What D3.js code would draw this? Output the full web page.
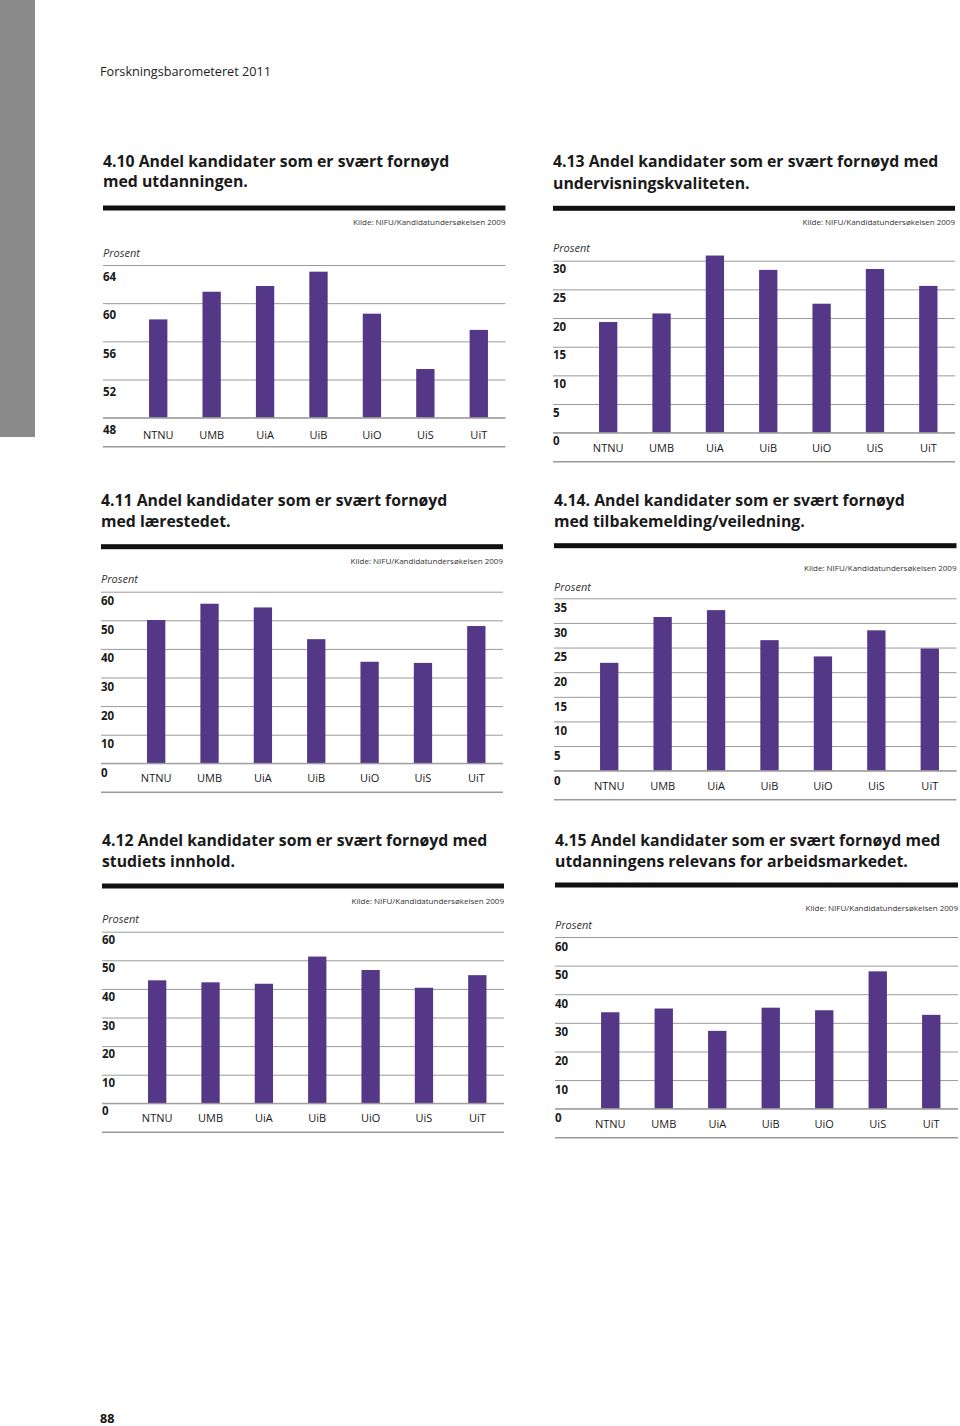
<!DOCTYPE html>
<html>
<head>
<meta charset="utf-8">
<script src="https://cdn.jsdelivr.net/npm/d3@7"></script>
<style>
  body { margin: 0; background: #fff; }
  svg { display: block; font-family: "Open Sans", sans-serif; }
</style>
</head>
<body>
<svg id="page" width="960" height="1426"></svg>
<script>
// institutions, same order in every panel
const categories = ["NTNU", "UMB", "UiA", "UiB", "UiO", "UiS", "UiT"];

// values (per cent)
const utdanningen = [58.3, 61.2, 61.8, 63.3, 58.9, 53.1, 57.2];       // 4.10
const larestedet = [50.1, 55.8, 54.5, 43.4, 35.5, 35.1, 48.0];        // 4.11
const innhold = [43.0, 42.3, 41.8, 51.3, 46.6, 40.4, 44.8];           // 4.12
const undervisning = [19.3, 20.8, 30.9, 28.4, 22.5, 28.55, 25.6];     // 4.13
const veiledning = [21.9, 31.2, 32.6, 26.5, 23.2, 28.5, 24.8];        // 4.14
const relevans = [33.7, 35.0, 27.2, 35.3, 34.4, 48.0, 32.8];          // 4.15

const ticks410 = [48, 52, 56, 60, 64];
const ticks413 = [0, 5, 10, 15, 20, 25, 30];
const ticks414 = [0, 5, 10, 15, 20, 25, 30, 35];
const ticks60 = [0, 10, 20, 30, 40, 50, 60];

const titles = [
  ["4.10 Andel kandidater som er svært fornøyd", "med utdanningen."],
  ["4.13 Andel kandidater som er svært fornøyd med", "undervisningskvaliteten."],
  ["4.11 Andel kandidater som er svært fornøyd", "med lærestedet."],
  ["4.14. Andel kandidater som er svært fornøyd", "med tilbakemelding/veiledning."],
  ["4.12 Andel kandidater som er svært fornøyd med", "studiets innhold."],
  ["4.15 Andel kandidater som er svært fornøyd med", "utdanningens relevans for arbeidsmarkedet."]
];
const kilde = "Kilde: NIFU/Kandidatundersøkelsen 2009";
const yLabel = "Prosent";

const barColor = "#553787";
const gridColor = "#9a9a9a";

// layout of the six panels on the page
const panels = [
  {values: utdanningen, ticks: ticks410, title: titles[0], left: 103, right: 505.5,
   t1: 161.7, t2: 181.7, thick: 208, src: 222, pros: 253, top: 265, base: 417.7, tdy: 11.7, cdy: 17.3},
  {values: undervisning, ticks: ticks413, title: titles[1], left: 553, right: 955,
   t1: 161.7, t2: 183.3, thick: 208.3, src: 221.7, pros: 248, top: 260.7, base: 432.7, tdy: 8.3, cdy: 15.3},
  {values: larestedet, ticks: ticks60, title: titles[2], left: 101, right: 503,
   t1: 500, t2: 521.7, thick: 546.7, src: 560.7, pros: 579.3, top: 591.7, base: 763.3, tdy: 9, cdy: 15},
  {values: veiledning, ticks: ticks414, title: titles[3], left: 554, right: 956.5,
   t1: 500.7, t2: 521.7, thick: 545.7, src: 568.3, pros: 586.7, top: 598.3, base: 770.7, tdy: 9.4, cdy: 15},
  {values: innhold, ticks: ticks60, title: titles[4], left: 102, right: 504,
   t1: 840, t2: 861.7, thick: 886, src: 900.7, pros: 919, top: 931.7, base: 1103.3, tdy: 7.6, cdy: 15},
  {values: relevans, ticks: ticks60, title: titles[5], left: 555, right: 958,
   t1: 840, t2: 861.7, thick: 885, src: 908.3, pros: 925, top: 937, base: 1108.7, tdy: 9, cdy: 15.6}
];

const svg = d3.select("#page");

// grey margin strip and running header
svg.append("rect").attr("x", 0).attr("y", 0).attr("width", 35).attr("height", 437).attr("fill", "#8a8a8a");
svg.append("text").attr("x", 100).attr("y", 75.5).attr("font-size", 12.7).attr("fill", "#222")
  .text("Forskningsbarometeret 2011");
svg.append("text").attr("x", 100).attr("y", 1422.5).attr("font-size", 12.5).attr("font-weight", 700)
  .attr("fill", "#111").text("88");

panels.forEach(p => {
  let g = svg.append("g");
  let width = p.right - p.left;

  // title, two lines
  g.selectAll(".title").data(p.title).join("text")
    .attr("class", "title")
    .attr("x", p.left)
    .attr("y", (d, i) => (i === 0 ? p.t1 : p.t2) + 5.6)
    .attr("font-size", 15.8).attr("font-weight", 700).attr("fill", "#1a1a1a")
    .text(d => d);

  // heavy rule under title
  g.append("rect").attr("x", p.left).attr("y", p.thick - 2.5)
    .attr("width", width).attr("height", 5).attr("fill", "#111");

  g.append("text").attr("x", p.right).attr("y", p.src + 2.9)
    .attr("text-anchor", "end").attr("font-size", 8).attr("fill", "#333")
    .text(kilde);

  g.append("text").attr("x", p.left).attr("y", p.pros + 4)
    .attr("font-size", 11).attr("font-style", "italic").attr("fill", "#333")
    .text(yLabel);

  let y = d3.scaleLinear()
    .domain(d3.extent(p.ticks))
    .range([p.base, p.top]);

  let x = d3.scaleBand()
    .domain(categories)
    .range([p.left + 28.5, p.right])
    .paddingInner(0.657)
    .paddingOuter(0.3285);

  // gridlines with labels hanging just under each line
  let yAxis = g.append("g")
    .attr("transform", `translate(${p.left},0)`)
    .call(d3.axisRight(y).tickValues(p.ticks).tickSize(width).tickPadding(0));
  yAxis.select(".domain").remove();
  yAxis.selectAll(".tick line").attr("stroke", gridColor).attr("stroke-width", 1);
  yAxis.selectAll(".tick text")
    .attr("x", 0).attr("dy", p.tdy + 4)
    .attr("font-family", "Open Sans").attr("font-size", 11.5).attr("font-weight", 700)
    .attr("fill", "#1a1a1a");

  // bars
  g.selectAll(".bar").data(p.values).join("rect")
    .attr("class", "bar")
    .attr("x", (d, i) => x(categories[i]))
    .attr("width", x.bandwidth())
    .attr("y", d => y(d))
    .attr("height", d => p.base - y(d))
    .attr("fill", barColor);

  // baseline drawn above bars
  g.append("line").attr("x1", p.left).attr("x2", p.right)
    .attr("y1", p.base).attr("y2", p.base).attr("stroke", gridColor);

  let xAxis = g.append("g")
    .attr("transform", `translate(0,${p.base})`)
    .call(d3.axisBottom(x).tickSize(0).tickPadding(0));
  xAxis.select(".domain").remove();
  xAxis.selectAll(".tick text")
    .attr("y", p.cdy + 4).attr("dy", null)
    .attr("font-family", "Open Sans").attr("font-size", 11).attr("fill", "#1a1a1a");

  // closing rule at the bottom of the panel
  g.append("line").attr("x1", p.left).attr("x2", p.right)
    .attr("y1", p.base + 29).attr("y2", p.base + 29)
    .attr("stroke", gridColor).attr("stroke-width", 1.5);
});
</script>
</body>
</html>
